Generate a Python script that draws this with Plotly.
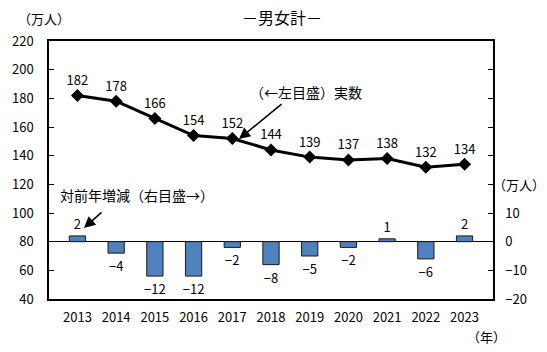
import plotly.graph_objects as go

years = ["2013","2014","2015","2016","2017","2018","2019","2020","2021","2022","2023"]
actual = [182,178,166,154,152,144,139,137,138,132,134]
change = [2,-4,-12,-12,-2,-8,-5,-2,1,-6,2]

FONT = "Noto Sans CJK JP"
fig = go.Figure()
fig.add_trace(go.Bar(
    x=years, y=change, yaxis="y2", width=0.42,
    marker=dict(color="#4F81BD", line=dict(color="#1a1a1a", width=1)),
    text=[("−" + str(-v)) if v < 0 else str(v) for v in change],
    textposition="outside", constraintext="none",
    textfont=dict(family=FONT, size=13, color="black"),
    cliponaxis=False, showlegend=False))
fig.add_trace(go.Scatter(
    x=years, y=actual, mode="lines+markers+text",
    line=dict(color="black", width=3),
    marker=dict(symbol="diamond", size=10, color="black"),
    text=[str(v) for v in actual], textposition="top center",
    textfont=dict(family=FONT, size=13, color="black"),
    cliponaxis=False, showlegend=False))

fig.update_layout(
    width=547, height=352,
    margin=dict(l=49, r=54, t=41, b=53),
    paper_bgcolor="white", plot_bgcolor="white",
    font=dict(family=FONT, size=13, color="black"),
    xaxis=dict(showline=True, linecolor="black", linewidth=1.5, mirror=True,
               ticks="", showgrid=False, tickfont=dict(size=13),
               ticklabelstandoff=6),
    yaxis=dict(range=[40,220], dtick=20, showline=True, linecolor="black",
               linewidth=1.5, ticks="inside", ticklen=5, tickcolor="black",
               showgrid=False, zeroline=False, tickfont=dict(size=13),
               ticklabelstandoff=11),
    yaxis2=dict(range=[-20,70], overlaying="y", side="right",
                tickvals=[-20,-10,0,10,20,30,40,50,60,70],
                ticktext=["−20","−10","0","10","","","","","",""],
                showline=True, linecolor="black", linewidth=1.5,
                ticks="inside", ticklen=5, tickcolor="black",
                showgrid=False, zeroline=True, zerolinecolor="black",
                zerolinewidth=1.2, tickfont=dict(size=13),
                ticklabelstandoff=8),
    annotations=[
        dict(text="－男女計－", x=(282-49)/444, y=1 + 24/258, xref="paper", yref="paper",
             xanchor="center", yanchor="middle", showarrow=False, font=dict(size=16)),
        dict(text="（万人）", xref="paper", yref="paper", x=(16-49)/444, y=1 + 23/258,
             xanchor="left", yanchor="middle", showarrow=False, font=dict(size=13)),
        dict(text="（万人）", xref="paper", yref="paper", x=(547-49)/444, y=(299-184)/258,
             xanchor="right", yanchor="middle", showarrow=False, font=dict(size=13)),
        dict(text="（年）", xref="paper", yref="paper", x=(465-49)/444, y=(299-336)/258,
             xanchor="left", yanchor="middle", showarrow=False, font=dict(size=13)),
        dict(text="（←左目盛）実数", xref="paper", yref="paper", x=(248-49)/444,
             y=(299-92)/258, xanchor="left", yanchor="middle", showarrow=False,
             font=dict(size=14)),
        dict(text="対前年増減（右目盛→）", xref="paper", yref="paper", x=(58-49)/444,
             y=(299-195)/258, xanchor="left", yanchor="middle", showarrow=False,
             font=dict(size=14)),
        dict(text="", xref="paper", yref="paper", x=(239-49)/444, y=(299-139)/258,
             ax=44, ay=-36, showarrow=True, arrowhead=2, arrowsize=1.4,
             arrowwidth=1.6, arrowcolor="black"),
        dict(text="", xref="paper", yref="paper", x=(84-49)/444, y=(299-228)/258,
             ax=19, ay=-17, showarrow=True, arrowhead=2, arrowsize=1.4,
             arrowwidth=1.6, arrowcolor="black"),
    ],
)
fig.write_html("out.html")
